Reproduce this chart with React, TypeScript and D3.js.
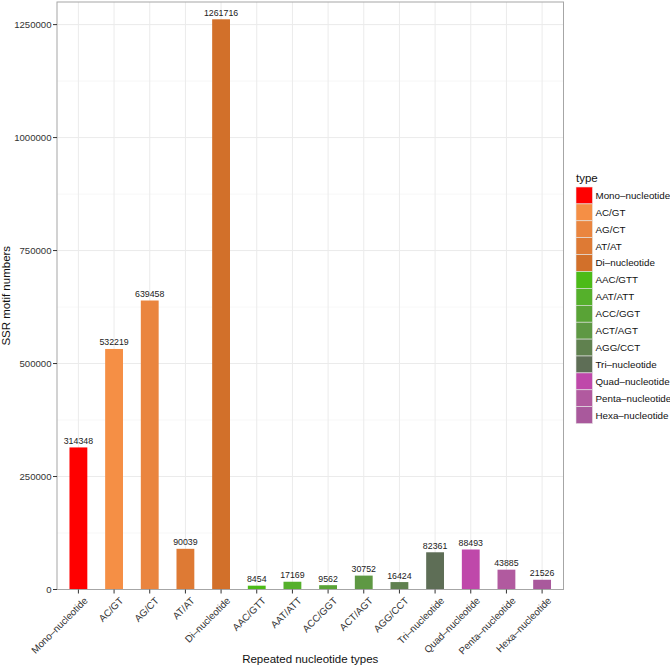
import React, { useRef, useEffect } from 'react';
import * as d3 from 'd3';

const categories = [
    'Mono-nucleotide',
    'AC/GT',
    'AG/CT',
    'AT/AT',
    'Di-nucleotide',
    'AAC/GTT',
    'AAT/ATT',
    'ACC/GGT',
    'ACT/AGT',
    'AGG/CCT',
    'Tri-nucleotide',
    'Quad-nucleotide',
    'Penta-nucleotide',
    'Hexa-nucleotide',
];

const counts = [
    314348, 532219, 639458, 90039, 1261716, 8454, 17169, 9562, 30752, 16424,
    82361, 88493, 43885, 21526,
];

const colors = [
    '#FF0000',
    '#F58F45',
    '#EA853F',
    '#DE7A34',
    '#D2702A',
    '#4CBB17',
    '#55B02B',
    '#59A336',
    '#5E9843',
    '#60814F',
    '#5E6E56',
    '#BF48AA',
    '#B15A9F',
    '#A9599C',
];

const yTicks = [0, 250000, 500000, 750000, 1000000, 1250000];

const W = 670;
const H = 669;
const FONT = '"Liberation Sans", Arial, sans-serif';

const App: React.FC = () => {
    const svgRef = useRef<SVGSVGElement | null>(null);

    useEffect(() => {
        document.body.style.margin = '0';
        if (!svgRef.current) return;
        const svg = d3.select(svgRef.current);
        svg.selectAll('*').remove();

        const left = 57;
        const right = 563.5;
        const top = 2;
        const bottom = 589.5;

        // discrete scale with ggplot-like 0.6 expansion on each side
        const step = (right - left) / (categories.length - 1 + 1.2);
        const x = (i: number) => left + step * (0.6 + i);
        const barW = step * 0.5;

        const y = d3.scaleLinear().domain([0, 1300000]).range([bottom, top]);

        const g = svg.append('g').attr('font-family', FONT);

        g.append('rect')
            .attr('x', left)
            .attr('y', top)
            .attr('width', right - left)
            .attr('height', bottom - top)
            .attr('fill', 'white');

        // minor grid
        const minor = d3.range(125000, 1300000, 250000);
        g.selectAll('.ygm')
            .data(minor)
            .enter()
            .append('line')
            .attr('x1', left)
            .attr('x2', right)
            .attr('y1', (d) => y(d))
            .attr('y2', (d) => y(d))
            .attr('stroke', '#f2f2f2')
            .attr('stroke-width', 0.6);

        g.selectAll('.yg')
            .data(yTicks)
            .enter()
            .append('line')
            .attr('x1', left)
            .attr('x2', right)
            .attr('y1', (d) => y(d))
            .attr('y2', (d) => y(d))
            .attr('stroke', '#ebebeb')
            .attr('stroke-width', 1);

        g.selectAll('.xg')
            .data(categories)
            .enter()
            .append('line')
            .attr('x1', (_d, i) => x(i))
            .attr('x2', (_d, i) => x(i))
            .attr('y1', top)
            .attr('y2', bottom)
            .attr('stroke', '#ebebeb')
            .attr('stroke-width', 1);

        // bars
        g.selectAll('.bar')
            .data(counts)
            .enter()
            .append('rect')
            .attr('x', (_d, i) => x(i) - barW / 2)
            .attr('y', (d) => y(d))
            .attr('width', barW)
            .attr('height', (d) => bottom - y(d))
            .attr('fill', (_d, i) => colors[i]);

        g.selectAll('.lbl')
            .data(counts)
            .enter()
            .append('text')
            .attr('x', (_d, i) => x(i))
            .attr('y', (d) => y(d) - 3.5)
            .attr('text-anchor', 'middle')
            .attr('font-size', 8.8)
            .attr('fill', '#222')
            .text((d) => d);

        // panel border
        g.append('rect')
            .attr('x', left)
            .attr('y', top)
            .attr('width', right - left)
            .attr('height', bottom - top)
            .attr('fill', 'none')
            .attr('stroke', '#a6a6a6')
            .attr('stroke-width', 1);

        // y axis
        yTicks.forEach((t) => {
            g.append('line')
                .attr('x1', left - 4)
                .attr('x2', left)
                .attr('y1', y(t))
                .attr('y2', y(t))
                .attr('stroke', '#333')
                .attr('stroke-width', 1);
            g.append('text')
                .attr('x', left - 5.5)
                .attr('y', y(t))
                .attr('dy', '0.35em')
                .attr('text-anchor', 'end')
                .attr('font-size', 9.6)
                .attr('fill', '#333')
                .text(t);
        });

        // x axis
        categories.forEach((c, i) => {
            g.append('line')
                .attr('x1', x(i))
                .attr('x2', x(i))
                .attr('y1', bottom)
                .attr('y2', bottom + 4)
                .attr('stroke', '#333')
                .attr('stroke-width', 1);
            g.append('text')
                .attr(
                    'transform',
                    `translate(${x(i) + 5},${bottom + 7}) rotate(-45)`,
                )
                .attr('text-anchor', 'end')
                .attr('dy', '0.7em')
                .attr('font-size', 9.8)
                .attr('fill', '#333')
                .text(c.replace('-', '\u2013'));
        });

        g.append('text')
            .attr('x', (left + right) / 2)
            .attr('y', 663)
            .attr('text-anchor', 'middle')
            .attr('font-size', 11.5)
            .attr('fill', '#111')
            .text('Repeated nucleotide types');

        g.append('text')
            .attr('transform', `translate(9.5,${(top + bottom) / 2}) rotate(-90)`)
            .attr('text-anchor', 'middle')
            .attr('font-size', 11.5)
            .attr('fill', '#111')
            .text('SSR motif numbers');

        // legend
        const lx = 576;
        const ly = 187;
        const kh = 16.9;
        g.append('text')
            .attr('x', lx)
            .attr('y', ly - 5)
            .attr('font-size', 11.5)
            .attr('fill', '#111')
            .text('type');
        categories.forEach((c, i) => {
            g.append('rect')
                .attr('x', lx)
                .attr('y', ly + i * kh)
                .attr('width', 16.5)
                .attr('height', kh)
                .attr('fill', colors[i])
                .attr('stroke', '#e6e6e6')
                .attr('stroke-width', 0.6);
            g.append('text')
                .attr('x', lx + 19.5)
                .attr('y', ly + i * kh + kh / 2)
                .attr('dy', '0.35em')
                .attr('font-size', 9.8)
                .attr('fill', '#111')
                .text(c.replace('-', '\u2013'));
        });
    }, []);

    return (
        <svg
            ref={svgRef}
            width={W}
            height={H}
            viewBox={`0 0 ${W} ${H}`}
            style={{ display: 'block', background: 'white' }}
        ></svg>
    );
};

export default App;
